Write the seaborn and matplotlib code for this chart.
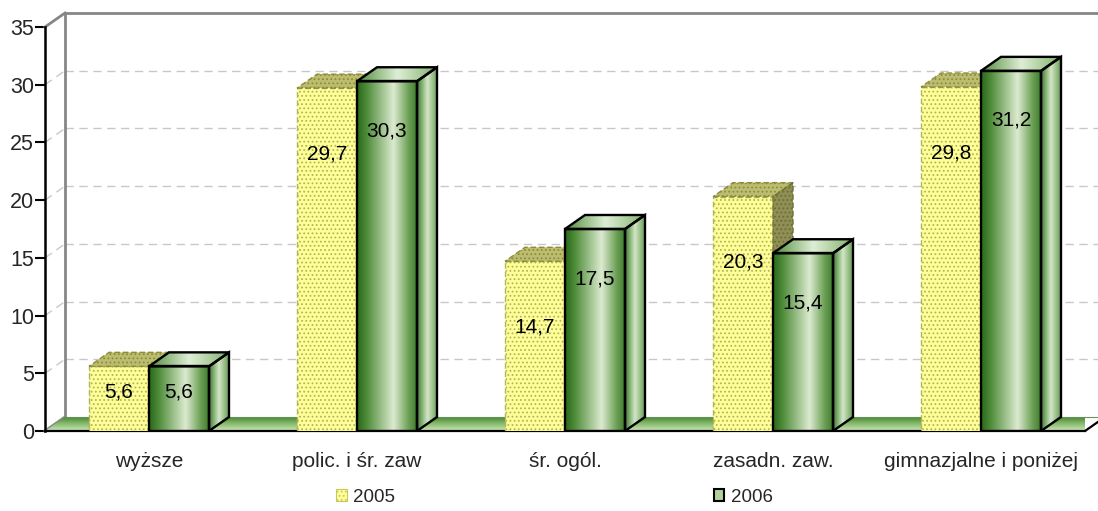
import matplotlib
matplotlib.use('Agg')
import matplotlib.pyplot as plt
import numpy as np
import pandas as pd
import seaborn as sns
from matplotlib.colors import LinearSegmentedColormap
from matplotlib.patches import Patch, Polygon

kategorie = ['wyższe', 'polic. i śr. zaw', 'śr. ogól.', 'zasadn. zaw.', 'gimnazjalne i poniżej']
lata = ['2005', '2006']
w2005 = [5.6, 29.7, 14.7, 20.3, 29.8]
w2006 = [5.6, 30.3, 17.5, 15.4, 31.2]
etykiety_y = [0, 5, 10, 15, 20, 25, 30, 35]

# przesuniecie "glebi" w jednostkach danych (ok. 20 px w poziomie, 14 px w pionie)
DX = 20 / 208
DY = 14 / 11.54

ZOLTY = '#ffff99'
ZIELONY = '#6fa653'

sns.set_style('white')
plt.rcParams['font.family'] = ['Liberation Sans', 'DejaVu Sans']
plt.rcParams['hatch.linewidth'] = 0.8

df = pd.DataFrame({
    'kategoria': kategorie * 2,
    'rok': [lata[0]] * len(kategorie) + [lata[1]] * len(kategorie),
    'wartosc': w2005 + w2006,
})

fig = plt.figure(figsize=(10.98, 5.11), dpi=100)
ax = fig.add_axes([45 / 1098, 80 / 511, 1040 / 1098, 404 / 511])

sns.barplot(data=df, x='kategoria', y='wartosc', hue='rok', hue_order=lata,
            palette=[ZOLTY, ZIELONY], width=0.577, dodge=True, errorbar=None,
            saturation=1, legend=False, ax=ax)

cm_front = LinearSegmentedColormap.from_list(
    'front', [(0, '#2a681c'), (0.15, '#4b8a36'), (0.6, '#dcebd0'), (0.85, '#6b9f55'), (1, '#3a7a2a')])
cm_top = LinearSegmentedColormap.from_list(
    'top', [(0, '#4f8c3a'), (0.5, '#dfeed6'), (1, '#7fb06a')])
cm_side = LinearSegmentedColormap.from_list(
    'side', [(0, '#3c7c2c'), (0.5, '#d3e7c5'), (1, '#6a9c55')])
cm_floor = LinearSegmentedColormap.from_list('floor', ['#cfe6bd', '#86bb6c', '#3f7e2c'])
gradient = np.linspace(0, 1, 256)


def gradient_fill(points, extent, cmap, zorder, vertical=False):
    poly = Polygon(points, closed=True, transform=ax.transData)
    data = gradient[:, None] if vertical else gradient[None, :]
    im = ax.imshow(data, extent=extent, origin='lower', aspect='auto', cmap=cmap,
                   interpolation='bilinear', zorder=zorder, clip_path=poly)
    im.set_clip_box(None)
    return im


# tylna sciana: linie siatki i krawedzie
siatka = dict(color='#c8c8c8', lw=1.0, ls=(0, (6, 4)), zorder=0.5, clip_on=False)
for y in etykiety_y[1:-1]:
    ax.plot([-0.5 + DX, 4.5 + DX], [y + DY, y + DY], **siatka)
    ax.plot([-0.5, -0.5 + DX], [y, y + DY], **siatka)
sciana = dict(color='#868686', lw=2.0, zorder=0.6, clip_on=False, solid_capstyle='projecting')
ax.plot([-0.5 + DX, -0.5 + DX, 4.5 + DX], [DY, 35 + DY, 35 + DY], **sciana)
ax.plot([-0.5, -0.5 + DX], [35, 35 + DY], **sciana)
ax.plot([-0.5, -0.5 + DX], [0, DY], **sciana)

# podloga
podloga = [(-0.5, 0), (4.5, 0), (4.5 + DX, DY), (-0.5 + DX, DY)]
gradient_fill(podloga, [-0.5, 4.5 + DX, 0, DY], cm_floor, 1, vertical=True)
ax.plot([-0.5 + DX, 4.5 + DX], [DY, DY], color='#6b8f5a', lw=0.8, zorder=1.1, clip_on=False)
ax.plot([4.5, 4.5 + DX], [0, DY], color='black', lw=1.6, zorder=1.2, clip_on=False)

# slupki 2005 (zolte, kropkowane)
for bar in ax.containers[0]:
    x0, w, h = bar.get_x(), bar.get_width(), bar.get_height()
    x1 = x0 + w
    bar.set_facecolor(ZOLTY)
    bar.set_edgecolor('#b4b452')
    bar.set_linestyle((0, (4, 2)))
    bar.set_linewidth(1.0)
    bar.set_hatch('....')
    bar.set_zorder(2)
    gora = Polygon([(x0, h), (x1, h), (x1 + DX, h + DY), (x0 + DX, h + DY)],
                   facecolor='#bdbd6f', edgecolor='#8c8c3c', hatch='....',
                   lw=1.0, ls=(0, (4, 2)), zorder=2)
    bok = Polygon([(x1, 0), (x1 + DX, DY), (x1 + DX, h + DY), (x1, h)],
                  facecolor='#8f8f55', edgecolor='#6e6e34', hatch='....',
                  lw=1.0, ls=(0, (4, 2)), zorder=2)
    ax.add_patch(gora)
    ax.add_patch(bok)

# slupki 2006 (zielone, cieniowane)
for bar in ax.containers[1]:
    x0, w, h = bar.get_x(), bar.get_width(), bar.get_height()
    x1 = x0 + w
    bar.set_facecolor('none')
    bar.set_edgecolor('black')
    bar.set_linewidth(1.7)
    bar.set_zorder(3.2)
    bar.set_joinstyle('miter')
    gradient_fill([(x0, 0), (x1, 0), (x1, h), (x0, h)], [x0, x1, 0, h], cm_front, 3.1)
    gora = [(x0, h), (x1, h), (x1 + DX, h + DY), (x0 + DX, h + DY)]
    bok = [(x1, 0), (x1 + DX, DY), (x1 + DX, h + DY), (x1, h)]
    gradient_fill(gora, [x0, x1 + DX, h, h + DY], cm_top, 3.1)
    gradient_fill(bok, [x1, x1 + DX, 0, h + DY], cm_side, 3.1)
    for pts in (gora, bok):
        ax.add_patch(Polygon(pts, closed=True, fill=False, edgecolor='black',
                             lw=1.7, joinstyle='miter', zorder=3.2))


def pozycja_etykiety(v, odstep):
    return v - odstep if v > 10 else v * 0.6


for cont, wart, odstep in zip(ax.containers, (w2005, w2006), (5.7, 4.3)):
    for bar, v in zip(cont, wart):
        ax.text(bar.get_x() + bar.get_width() / 2, pozycja_etykiety(v, odstep),
                f'{v:.1f}'.replace('.', ','), ha='center', va='center',
                fontsize=15, color='black', zorder=6)

ax.set_xlim(-0.5, 4.5)
ax.set_ylim(0, 35)
ax.set_xlabel('')
ax.set_ylabel('')
ax.set_yticks(etykiety_y)
ax.set_yticklabels([str(v) for v in etykiety_y], fontsize=15.5)
ax.set_xticks(range(len(kategorie)))
ax.set_xticklabels(kategorie, fontsize=15)
ax.set_xticks(np.arange(-0.5, len(kategorie)), minor=True)
ax.tick_params(axis='x', which='major', length=0, pad=15)
ax.tick_params(axis='x', which='minor', length=7, width=1.5, color='black', direction='out')
ax.tick_params(axis='y', length=7, width=1.5, color='black', direction='out', pad=1, left=True)
for side in ('top', 'right'):
    ax.spines[side].set_visible(False)
ax.spines['left'].set_color('black')
ax.spines['left'].set_linewidth(1.8)
ax.spines['left'].set_zorder(7)
ax.spines['bottom'].set_color('black')
ax.spines['bottom'].set_linewidth(1.6)
ax.spines['bottom'].set_zorder(1.3)
ax.set_facecolor('none')

uchwyty = [Patch(facecolor=ZOLTY, edgecolor='#c8c860', hatch='....', lw=0.8),
           Patch(facecolor='#b2d29a', edgecolor='black', lw=1.5)]
fig.legend(uchwyty, lata, loc='center', bbox_to_anchor=(0.505, 1 - 497 / 511), ncol=2,
           frameon=False, fontsize=13.5, handlelength=0.55, handleheight=0.55,
           handletextpad=0.35, columnspacing=17)

fig.savefig('out.png', dpi=100)
